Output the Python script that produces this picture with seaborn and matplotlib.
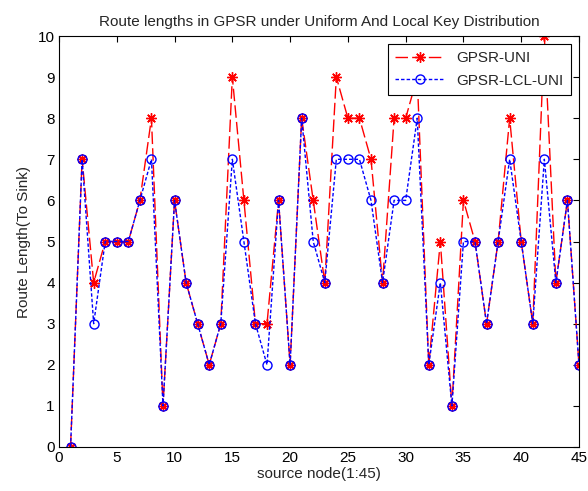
import matplotlib
matplotlib.use("Agg")
import matplotlib.pyplot as plt
import seaborn as sns
import pandas as pd

nodes = list(range(1, 46))
gpsr_uni = [0, 7, 4, 5, 5, 5, 6, 8, 1, 6, 4, 3, 2, 3, 9, 6, 3, 3, 6, 2,
            8, 6, 4, 9, 8, 8, 7, 4, 8, 8, 9, 2, 5, 1, 6, 5, 3, 5, 8, 5,
            3, 10, 4, 6, 2]
gpsr_lcl_uni = [0, 7, 3, 5, 5, 5, 6, 7, 1, 6, 4, 3, 2, 3, 7, 5, 3, 2, 6, 2,
                8, 5, 4, 7, 7, 7, 6, 4, 6, 6, 8, 2, 4, 1, 5, 5, 3, 5, 7, 5,
                3, 7, 4, 6, 2]
series_names = ["GPSR-UNI", "GPSR-LCL-UNI"]
x_ticks = [0, 5, 10, 15, 20, 25, 30, 35, 40, 45]
y_ticks = list(range(0, 11))

sns.set_style("white")
plt.rcParams["font.family"] = ["Liberation Sans", "DejaVu Sans"]

df = pd.DataFrame({"node": nodes, series_names[0]: gpsr_uni, series_names[1]: gpsr_lcl_uni})

fig = plt.figure(figsize=(5.88, 4.91), dpi=100)
ax = fig.add_axes([59 / 588, 44 / 491, 520 / 588, 411 / 491])

sns.lineplot(data=df, x="node", y=series_names[0], ax=ax, color="red",
             linestyle=(0, (9, 3)), linewidth=1.0, marker=(8, 2, 0), markersize=7.5,
             markeredgecolor="red", markerfacecolor="red", markeredgewidth=1.0,
             label=series_names[0])
sns.lineplot(data=df, x="node", y=series_names[1], ax=ax, color="blue",
             linestyle=(0, (2.5, 1.5)), linewidth=1.0, marker="o", markersize=6.5,
             markeredgecolor="blue", markerfacecolor="none", markeredgewidth=1.0,
             label=series_names[1])

ax.set_xlim(0, 45)
ax.set_ylim(0, 10)
ax.set_xticks(x_ticks)
ax.set_yticks(y_ticks)
ax.tick_params(direction="in", length=4, width=0.8, top=True, right=True,
               labelsize=11, colors="black", pad=3)
for s in ax.spines.values():
    s.set_color("black")
    s.set_linewidth(0.8)

ax.set_title("Route lengths in GPSR under Uniform And Local Key Distribution",
             fontsize=11, pad=7)
ax.set_xlabel("source node(1:45)", fontsize=11, labelpad=1)
ax.set_ylabel("Route Length(To Sink)", fontsize=11, labelpad=5)

leg = ax.legend(loc="upper right", fontsize=11, fancybox=False, frameon=True,
                edgecolor="black", framealpha=1, handlelength=3.2,
                borderaxespad=0.5, borderpad=0.5, labelspacing=0.55)
leg.get_frame().set_linewidth(0.8)

fig.savefig("out.png", dpi=100)
